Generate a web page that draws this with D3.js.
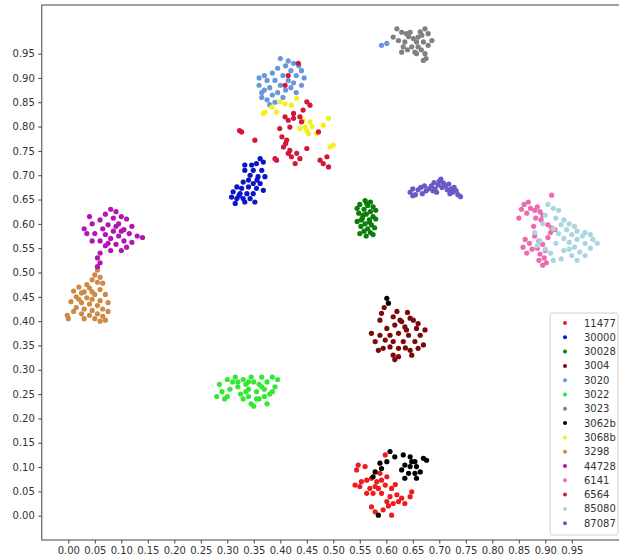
<!DOCTYPE html>
<html>
<head>
<meta charset="utf-8">
<script src="https://d3js.org/d3.v7.min.js"></script>
<style>
  body { margin: 0; background: #fff; }
  svg { display: block; }
  text { font-family: "DejaVu Sans", sans-serif; }
</style>
</head>
<body>
<div id="ElementPane"></div>
<script>
// class names in legend order
var classNames = ['11477','30000','30028','3004','3020','3022','3023','3062b','3068b','3298','44728','6141','6564','85080','87087'];
var classColors = ['#ee1c1c','#0a14c8','#0b7d0b','#7a0a0a','#6a96dc','#33e833','#808080','#000000','#f4f01a','#cd8a45','#b414b4','#ee6aae','#d01838','#a9d6e0','#6a5ac8'];
var xTicks = d3.range(0, 20).map(function(i){ return i * 0.05; });
var yTicks = d3.range(0, 20).map(function(i){ return i * 0.05; });

var pts11477 = [[0.598,0.125],[0.547,0.104],[0.544,0.094],[0.560,0.101],[0.541,0.063],[0.550,0.060],[0.563,0.073],[0.572,0.077],[0.582,0.070],[0.591,0.073],[0.569,0.056],[0.585,0.056],[0.598,0.063],[0.575,0.046],[0.591,0.046],[0.610,0.056],[0.607,0.039],[0.620,0.043],[0.629,0.036],[0.601,0.029],[0.613,0.025],[0.635,0.025],[0.645,0.039],[0.572,0.018],[0.579,0.008],[0.594,0.012],[0.610,0.001],[0.623,0.029],[0.588,0.087],[0.601,0.080],[0.579,0.060],[0.563,0.046],[0.648,0.049],[0.553,0.070],[0.617,0.064],[0.604,0.020]];
var pts30000 = [[0.362,0.734],[0.368,0.727],[0.355,0.724],[0.346,0.721],[0.333,0.721],[0.333,0.710],[0.349,0.710],[0.365,0.710],[0.343,0.700],[0.358,0.697],[0.371,0.697],[0.340,0.690],[0.330,0.686],[0.349,0.683],[0.362,0.683],[0.318,0.676],[0.327,0.673],[0.340,0.676],[0.355,0.673],[0.368,0.669],[0.311,0.666],[0.324,0.662],[0.337,0.662],[0.349,0.662],[0.308,0.655],[0.318,0.652],[0.330,0.652],[0.343,0.652],[0.315,0.642],[0.333,0.645],[0.352,0.645],[0.322,0.658],[0.356,0.690]];
var pts30028 = [[0.560,0.648],[0.570,0.645],[0.550,0.640],[0.565,0.638],[0.575,0.635],[0.545,0.632],[0.558,0.630],[0.570,0.625],[0.580,0.628],[0.548,0.622],[0.562,0.620],[0.575,0.615],[0.555,0.612],[0.568,0.608],[0.580,0.610],[0.545,0.605],[0.560,0.600],[0.572,0.598],[0.552,0.595],[0.565,0.590],[0.578,0.592],[0.558,0.585],[0.570,0.582],[0.550,0.580],[0.562,0.575],[0.575,0.578],[0.556,0.618],[0.568,0.604],[0.563,0.642],[0.553,0.608]];
var pts3004 = [[0.591,0.416],[0.613,0.409],[0.588,0.402],[0.629,0.399],[0.645,0.406],[0.651,0.402],[0.601,0.385],[0.616,0.392],[0.635,0.388],[0.657,0.385],[0.673,0.382],[0.572,0.375],[0.588,0.371],[0.607,0.371],[0.623,0.375],[0.642,0.371],[0.664,0.371],[0.579,0.358],[0.598,0.361],[0.613,0.358],[0.632,0.358],[0.654,0.358],[0.670,0.351],[0.585,0.340],[0.594,0.344],[0.623,0.344],[0.645,0.340],[0.660,0.344],[0.613,0.330],[0.623,0.327],[0.648,0.330],[0.616,0.321],[0.607,0.347],[0.638,0.382],[0.626,0.402],[0.620,0.420],[0.596,0.428],[0.640,0.418],[0.660,0.395],[0.636,0.345]];
var pts3020 = [[0.400,0.940],[0.415,0.935],[0.425,0.930],[0.435,0.925],[0.410,0.925],[0.440,0.915],[0.420,0.915],[0.395,0.920],[0.430,0.905],[0.405,0.905],[0.445,0.900],[0.385,0.910],[0.370,0.905],[0.360,0.900],[0.375,0.895],[0.390,0.895],[0.415,0.895],[0.425,0.890],[0.440,0.885],[0.360,0.885],[0.380,0.880],[0.400,0.885],[0.410,0.875],[0.430,0.870],[0.365,0.870],[0.385,0.865],[0.395,0.870],[0.375,0.855],[0.390,0.850],[0.405,0.860],[0.370,0.875],[0.420,0.880],[0.365,0.860],[0.380,0.845],[0.591,0.967],[0.601,0.971]];
var pts3022 = [[0.280,0.245],[0.290,0.255],[0.285,0.270],[0.300,0.280],[0.310,0.275],[0.305,0.260],[0.295,0.240],[0.315,0.285],[0.320,0.265],[0.325,0.250],[0.330,0.280],[0.335,0.270],[0.330,0.240],[0.340,0.260],[0.345,0.285],[0.350,0.275],[0.340,0.245],[0.355,0.255],[0.360,0.270],[0.345,0.230],[0.365,0.285],[0.370,0.260],[0.360,0.240],[0.375,0.275],[0.380,0.250],[0.385,0.285],[0.390,0.265],[0.395,0.280],[0.370,0.245],[0.350,0.225],[0.335,0.255],[0.320,0.275],[0.365,0.265],[0.385,0.255],[0.300,0.245],[0.355,0.240],[0.375,0.230],[0.340,0.275]];
var pts3023 = [[0.620,1.001],[0.629,0.994],[0.638,0.991],[0.645,0.994],[0.673,1.001],[0.613,0.984],[0.623,0.977],[0.635,0.974],[0.651,0.981],[0.660,0.984],[0.667,0.988],[0.679,0.991],[0.686,0.977],[0.657,0.974],[0.670,0.974],[0.632,0.964],[0.648,0.964],[0.660,0.964],[0.679,0.967],[0.629,0.953],[0.654,0.953],[0.657,0.950],[0.673,0.950],[0.670,0.936],[0.675,0.940],[0.642,0.985],[0.664,0.995],[0.640,0.958],[0.666,0.958]];
var pts3062b = [[0.607,0.132],[0.616,0.121],[0.632,0.125],[0.588,0.108],[0.601,0.111],[0.579,0.090],[0.591,0.097],[0.645,0.121],[0.654,0.111],[0.670,0.118],[0.676,0.114],[0.635,0.104],[0.645,0.101],[0.657,0.101],[0.629,0.094],[0.642,0.087],[0.654,0.087],[0.664,0.090],[0.635,0.077],[0.657,0.077],[0.648,0.111],[0.575,0.080],[0.585,0.001],[0.601,0.447],[0.604,0.437]];
var pts3068b = [[0.368,0.827],[0.371,0.830],[0.384,0.840],[0.393,0.830],[0.409,0.847],[0.421,0.844],[0.431,0.858],[0.443,0.813],[0.450,0.792],[0.447,0.799],[0.456,0.810],[0.469,0.786],[0.481,0.803],[0.491,0.817],[0.494,0.758],[0.500,0.762],[0.437,0.796],[0.453,0.786],[0.399,0.851],[0.460,0.800]];
var pts3298 = [[0.055,0.505],[0.050,0.495],[0.060,0.490],[0.045,0.485],[0.055,0.480],[0.065,0.478],[0.035,0.475],[0.020,0.470],[0.040,0.468],[0.060,0.465],[0.010,0.462],[0.025,0.458],[0.050,0.455],[0.070,0.455],[0.015,0.450],[0.035,0.448],[0.045,0.445],[0.060,0.442],[0.005,0.440],[0.025,0.438],[0.075,0.438],[0.040,0.435],[0.055,0.432],[0.015,0.428],[0.030,0.425],[0.065,0.425],[0.045,0.422],[0.010,0.420],[0.075,0.420],[0.025,0.415],[0.055,0.415],[0.040,0.412],[-0.002,0.412],[0.000,0.405],[0.065,0.410],[0.050,0.405],[0.070,0.402],[0.030,0.405],[0.060,0.400],[0.020,0.445],[0.045,0.460],[0.030,0.460]];
var pts44728 = [[0.080,0.630],[0.090,0.625],[0.070,0.620],[0.100,0.615],[0.040,0.615],[0.085,0.612],[0.110,0.610],[0.060,0.608],[0.030,0.590],[0.045,0.600],[0.075,0.598],[0.095,0.600],[0.120,0.595],[0.065,0.590],[0.105,0.588],[0.085,0.585],[0.050,0.580],[0.035,0.580],[0.070,0.578],[0.115,0.580],[0.095,0.575],[0.130,0.575],[0.140,0.572],[0.080,0.570],[0.060,0.565],[0.105,0.565],[0.120,0.562],[0.090,0.558],[0.070,0.555],[0.110,0.552],[0.100,0.545],[0.080,0.545],[0.060,0.540],[0.055,0.530],[0.060,0.520],[0.055,0.512],[0.045,0.565],[0.090,0.595],[0.075,0.560],[0.100,0.585]];
var pts6141 = [[0.912,0.659],[0.860,0.640],[0.868,0.645],[0.855,0.630],[0.872,0.632],[0.865,0.622],[0.880,0.628],[0.885,0.635],[0.890,0.625],[0.895,0.618],[0.882,0.612],[0.892,0.608],[0.850,0.612],[0.905,0.598],[0.912,0.592],[0.918,0.588],[0.910,0.582],[0.862,0.568],[0.870,0.560],[0.858,0.552],[0.875,0.548],[0.865,0.540],[0.888,0.565],[0.895,0.558],[0.885,0.550],[0.900,0.545],[0.890,0.538],[0.898,0.530],[0.888,0.525],[0.895,0.515],[0.902,0.520],[0.880,0.575],[0.905,0.572],[0.878,0.595]];
var pts6564 = [[0.450,0.851],[0.456,0.844],[0.443,0.834],[0.437,0.820],[0.425,0.817],[0.415,0.813],[0.409,0.820],[0.418,0.799],[0.399,0.796],[0.403,0.779],[0.412,0.772],[0.406,0.758],[0.418,0.751],[0.431,0.745],[0.421,0.738],[0.437,0.734],[0.428,0.724],[0.393,0.731],[0.390,0.734],[0.450,0.755],[0.472,0.789],[0.475,0.731],[0.488,0.738],[0.491,0.717],[0.481,0.724],[0.327,0.789],[0.323,0.792],[0.352,0.772],[0.440,0.810],[0.425,0.827],[0.410,0.765],[0.415,0.745],[0.434,0.930],[0.415,0.905],[0.409,0.885]];
var pts85080 = [[0.905,0.640],[0.915,0.632],[0.925,0.628],[0.900,0.618],[0.920,0.612],[0.935,0.608],[0.895,0.600],[0.930,0.598],[0.945,0.600],[0.955,0.595],[0.915,0.590],[0.940,0.588],[0.960,0.585],[0.975,0.582],[0.925,0.580],[0.950,0.578],[0.970,0.575],[0.985,0.578],[0.880,0.582],[0.935,0.570],[0.960,0.568],[0.990,0.568],[0.998,0.560],[0.945,0.562],[0.975,0.560],[0.920,0.560],[0.885,0.555],[0.900,0.548],[0.955,0.552],[0.985,0.550],[0.935,0.545],[0.965,0.542],[0.910,0.540],[0.950,0.535],[0.975,0.535],[0.930,0.528],[0.960,0.525],[0.915,0.525],[0.890,0.565],[0.945,0.548]];
var pts87087 = [[0.645,0.665],[0.650,0.672],[0.655,0.660],[0.660,0.670],[0.665,0.675],[0.668,0.662],[0.675,0.668],[0.680,0.672],[0.685,0.678],[0.690,0.685],[0.692,0.672],[0.698,0.680],[0.700,0.688],[0.705,0.675],[0.708,0.684],[0.712,0.678],[0.715,0.670],[0.718,0.682],[0.722,0.672],[0.725,0.665],[0.728,0.675],[0.732,0.668],[0.735,0.660],[0.740,0.656],[0.695,0.665],[0.703,0.692],[0.688,0.668],[0.650,0.658],[0.672,0.678],[0.720,0.662]];

var seriesPoints = [pts11477, pts30000, pts30028, pts3004, pts3020, pts3022, pts3023, pts3062b, pts3068b, pts3298, pts44728, pts6141, pts6564, pts85080, pts87087];

var width = 619, height = 559;
var x = d3.scaleLinear().domain([-0.05, 1.05]).range([41.8, 624.8]);
var y = d3.scaleLinear().domain([-0.05, 1.05]).range([540, 5]);

var svg = d3.select("#ElementPane").append("svg")
  .attr("width", width)
  .attr("height", height);

// title, cut off at the top of the picture like in the source image
svg.append("text")
  .attr("x", 40)
  .attr("y", -3)
  .style("font-size", "16px")
  .style("font-weight", "bold")
  .style("fill", "#111")
  .text("Figure: grouping of embeddings by category");

// points, one group per class
seriesPoints.forEach(function(pts, i) {
  svg.append("g")
    .selectAll("circle")
    .data(pts)
    .enter().append("circle")
    .attr("cx", function(d){ return x(d[0]); })
    .attr("cy", function(d){ return y(d[1]); })
    .attr("r", 2.6)
    .style("fill", classColors[i]);
});

var xAxis = d3.axisBottom(x).tickValues(xTicks).tickFormat(d3.format(".2f")).tickSize(3.5).tickPadding(3.5);
var yAxis = d3.axisLeft(y).tickValues(yTicks).tickFormat(d3.format(".2f")).tickSize(3.5).tickPadding(3.5);

var gx = svg.append("g").attr("transform", "translate(0," + y(-0.05) + ")").call(xAxis);
var gy = svg.append("g").attr("transform", "translate(" + x(-0.05) + ",0)").call(yAxis);
[gx, gy].forEach(function(g) {
  g.select(".domain").remove();
  g.selectAll(".tick line").style("stroke", "#444");
  g.selectAll(".tick text").style("font-size", "10px").style("fill", "#333").style("font-family", "DejaVu Sans, sans-serif");
});

// frame (right side falls outside the picture)
svg.append("rect")
  .attr("x", x(-0.05))
  .attr("y", y(1.05))
  .attr("width", x(1.05) - x(-0.05))
  .attr("height", y(-0.05) - y(1.05))
  .style("fill", "none")
  .style("stroke", "#444")
  .style("stroke-width", 1);

// legend
var legend = svg.append("g").attr("transform", "translate(550,313)");
legend.append("rect")
  .attr("width", 68).attr("height", 222)
  .attr("rx", 2)
  .style("fill", "#fff").style("fill-opacity", 0.8)
  .style("stroke", "#d0d0d0");
var rows = legend.selectAll("g.row").data(classNames).enter().append("g")
  .attr("class", "row")
  .attr("transform", function(d, i){ return "translate(0," + (10 + i * 14.3) + ")"; });
rows.append("circle").attr("cx", 15).attr("cy", 0).attr("r", 2)
  .style("fill", function(d, i){ return classColors[i]; });
rows.append("text").attr("x", 34).attr("y", 0).attr("dy", "0.35em")
  .style("font-size", "10px").style("fill", "#333")
  .text(function(d){ return d; });
</script>
</body>
</html>
